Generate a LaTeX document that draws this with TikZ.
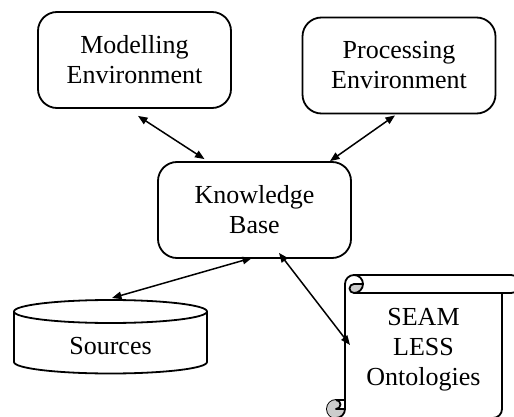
\documentclass[tikz,border=0pt]{standalone}
\usepackage{fontspec}
\setmainfont{Liberation Serif}
\usetikzlibrary{arrows.meta,calc}
\newcommand{\diagfont}{\fontsize{26}{30}\selectfont}
\begin{document}
\begin{tikzpicture}[x=1pt,y=-1pt,
  box/.style={draw, line width=1.8pt, rounded corners=19pt, minimum width=193pt, minimum height=96pt, align=center, font=\diagfont, inner sep=0pt},
  txt/.style={align=center, font=\diagfont, inner sep=0pt},
  shp/.style={line width=1.8pt, line join=round},
  curl/.style={fill=gray!40},
  link/.style={line width=1.5pt, {Triangle[length=9.5pt,width=7.5pt]}-{Triangle[length=9.5pt,width=7.5pt]}}]
\useasboundingbox (0,0) rectangle (514,417);
\clip (0,0) rectangle (514,417);

% boxes
\node[box] (mod) at (134.5,60) {Modelling\\Environment};
\node[box] (proc) at (399,65.5) {Processing\\Environment};
\node[box] (kb) at (254.5,210) {Knowledge\\Base};

% cylinder (Sources)
\draw[shp, fill=white] (14,311.5) -- (14,362)
  arc[start angle=180, end angle=0, x radius=96.5, y radius=11.5]
  -- (207,311.5)
  arc[start angle=0, end angle=-180, x radius=96.5, y radius=11.5] -- cycle;
\draw[shp] (14,311.5) arc[start angle=180, end angle=0, x radius=96.5, y radius=11.5];

% scroll (SEAM LESS Ontologies)
\draw[shp, fill=white] (345,400) -- (345,284)
  arc[start angle=180, delta angle=90, radius=9] -- (511,275)
  arc[start angle=270, delta angle=180, radius=9] -- (502,293) -- (502,409)
  arc[start angle=0, delta angle=90, radius=9] -- (336,418)
  arc[start angle=90, delta angle=180, radius=9] -- cycle;
\fill[curl] (363,284) arc[start angle=0, delta angle=90, radius=9]
  arc[start angle=90, delta angle=180, radius=4.5] -- cycle;
\fill[curl] (336,418) arc[start angle=90, delta angle=180, radius=9]
  arc[start angle=270, delta angle=180, radius=4.5] -- (345,409)
  arc[start angle=0, delta angle=90, radius=9] -- cycle;
\draw[shp] (354,275) arc[start angle=270, delta angle=180, radius=9]
  arc[start angle=90, delta angle=180, radius=4.5] -- (363,284);
\draw[shp] (502,293) -- (354,293);
\draw[shp] (336,400) arc[start angle=270, delta angle=180, radius=4.5] -- (345,409);
\draw[shp] (336,418) arc[start angle=90, delta angle=-90, radius=9] -- (345,400);

% texts
\node[txt] (src) at (110.5,346) {Sources};
\node[txt] (seam) at (423.5,350) {SEAM\\LESS\\Ontologies};

% connectors
\draw[link] ([shift={(3.5,7)}]mod.south) -- ([shift={(-50,-2)}]kb.north);
\draw[link] ([shift={(-4,1)}]proc.south) -- ([shift={(75.5,0)}]kb.north);
\draw[link] ([shift={(-2.5,-1)}]kb.south) -- ([shift={(1.5,-48)}]src.center);
\draw[link] ([shift={(24.5,-6)}]kb.south) -- ([shift={(-73.5,-5)}]seam.center);
\end{tikzpicture}
\end{document}
